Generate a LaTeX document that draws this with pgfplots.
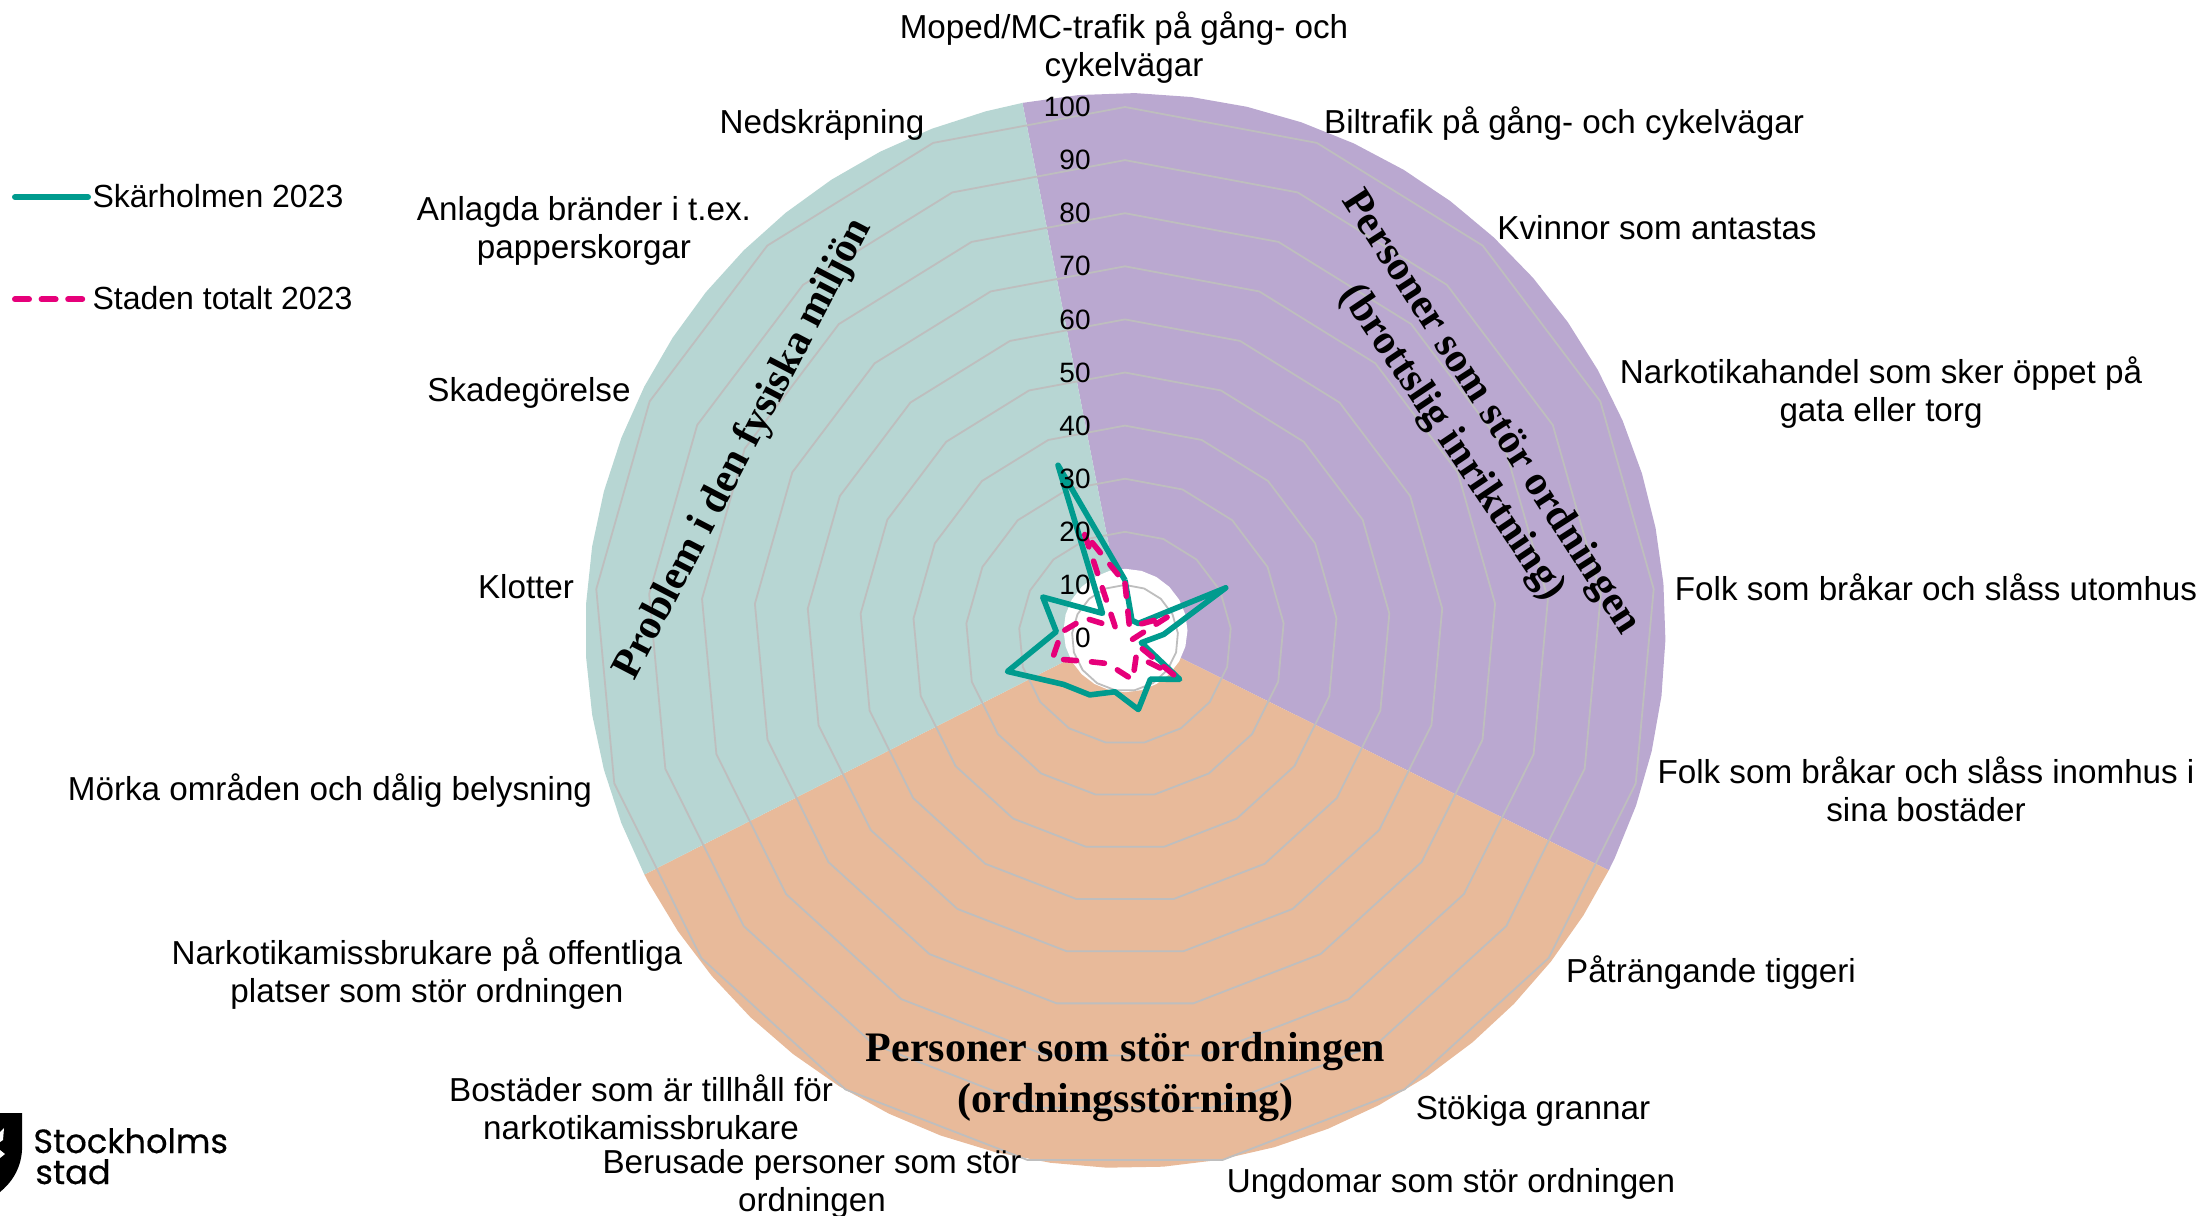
\documentclass[border=0pt]{standalone}
\usepackage{fontspec}
\setmainfont{Liberation Sans}
\newfontfamily\wordart{Liberation Serif}
\newfontfamily\logofont[FakeBold=0.4]{Poppins}
\usepackage{pgfplots}
\usepackage{pgfplotstable}
\pgfplotsset{compat=1.18}
\usepgfplotslibrary{polar}

\definecolor{purplebg}{RGB}{186,168,208}
\definecolor{greenbg}{RGB}{183,214,211}
\definecolor{orangebg}{RGB}{232,186,154}
\definecolor{ringgray}{RGB}{190,190,190}
\definecolor{tealline}{RGB}{0,155,142}
\definecolor{pinkline}{RGB}{230,0,122}

% angle = 90 - k*360/17, clockwise from the top
\pgfplotstableread{
angle teal pink
90 10.9 10.3
68.82 3.6 2.3
47.65 3.7 3.3
26.47 21.2 9.0
5.29 7.3 2.1
344.12 3.2 1.3
322.94 12.9 11.5
301.76 9.1 4.0
280.59 13.7 8.0
259.41 10.3 6.3
238.24 12.6 5.7
217.06 14.5 7.5
195.88 23.0 14.2
174.71 13.0 12.0
153.53 17.3 8.4
132.35 6.3 2.7
111.18 34.9 21.3
90 10.9 10.3
}\radardata

\begin{document}
\begin{tikzpicture}
\path[use as bounding box] (0pt,0pt) rectangle (1104pt,-608pt);

% doughnut behind the web, in pixels of radius
\begin{polaraxis}[
  at={(562.75pt,-315.25pt)}, anchor=center,
  scale only axis, width=540pt, height=537.5pt,
  hide axis, clip=false,
  ymin=0, ymax=540
]
\addplot [fill=purplebg, draw=none] coordinates {(0,0)(101,540)(95,540)(89,540)(83,540)(77,540)(71,540)(65,540)(59,540)(53,540)(47,540)(41,540)(35,540)(29,540)(23,540)(17,540)(11,540)(5,540)(-1,540)(-7,540)(-13,540)(-19,540)(-25,540)(-26.5,540)};
\addplot [fill=orangebg, draw=none] coordinates {(0,0)(-26.5,540)(-32,540)(-38,540)(-44,540)(-50,540)(-56,540)(-62,540)(-68,540)(-74,540)(-80,540)(-86,540)(-92,540)(-98,540)(-104,540)(-110,540)(-116,540)(-122,540)(-128,540)(-134,540)(-140,540)(-146,540)(-152,540)(-153,540)};
\addplot [fill=greenbg, draw=none] coordinates {(0,0)(207,540)(201,540)(195,540)(189,540)(183,540)(177,540)(171,540)(165,540)(159,540)(153,540)(147,540)(141,540)(135,540)(129,540)(123,540)(117,540)(111,540)(105,540)(101,540)};
\addplot [fill=white, draw=none] coordinates {(0,62)(15,62)(30,62)(45,62)(60,62)(75,62)(90,62)(105,62)(120,62)(135,62)(150,62)(165,62)(180,62)(195,62)(210,62)(225,62)(240,62)(255,62)(270,62)(285,62)(300,62)(315,62)(330,62)(345,62)};
\end{polaraxis}

% the web
\begin{polaraxis}[
  at={(562.5pt,-319pt)}, anchor=center,
  scale only axis, width=531pt, height=531pt,
  hide axis, clip=false,
  ymin=0, ymax=100
]
\pgfplotsinvokeforeach{10,20,...,100}{
  \addplot [ringgray, line width=0.9pt] table [x=angle, y expr=#1] {\radardata};
}
\addplot [tealline, line width=2.8pt, line join=round] table [x=angle, y=teal] {\radardata};
\addplot [pinkline, line width=2.8pt, line cap=round, line join=round, dash pattern=on 6.5pt off 7.5pt] table [x=angle, y=pink] {\radardata};

\pgfplotsinvokeforeach{0,10,...,100}{
  \node [anchor=east, font=\fontsize{14}{16}\selectfont, xshift=-17pt, inner sep=0pt] at (axis cs:90,#1) {#1};
}
\end{polaraxis}

% legend on its own empty axis, the polar one shifts the keys
\begin{axis}[
  at={(0pt,-80pt)}, anchor=north west,
  scale only axis, width=200pt, height=100pt,
  hide axis, xmin=0, xmax=1, ymin=0, ymax=1,
  legend cell align=left,
  legend image code/.code={\draw[#1] (0,0) -- (36.5pt,0);},
  legend style={draw=none, fill=none, font=\fontsize{16}{19}\selectfont,
    at={(0,1)}, anchor=north west, inner sep=0pt, outer sep=0pt, xshift=6pt, yshift=-10pt,
    row sep=34pt, nodes={inner xsep=0.8pt}, /tikz/every even column/.append style={column sep=0pt}}
]
\addlegendimage{tealline, line width=3pt, line cap=round}
\addlegendentry{Skärholmen 2023}
\addlegendimage{pinkline, line width=3pt, line cap=round, dash pattern=on 7pt off 6.3pt}
\addlegendentry{Staden totalt 2023}
\end{axis}

\begin{scope}[x=0.5pt,y=-0.5pt]
% spoke labels
\begin{scope}[every node/.style={align=center, inner sep=0pt, font=\fontsize{16.6}{19}\selectfont}]
\node at (1124,48) {Moped/MC-trafik på gång- och\\cykelvägar};
\node at (1564,124) {Biltrafik på gång- och cykelvägar};
\node at (1657,228) {Kvinnor som antastas};
\node at (1881,393) {Narkotikahandel som sker öppet på\\gata eller torg};
\node at (1936,587) {Folk som bråkar och slåss utomhus};
\node at (1926,789) {Folk som bråkar och slåss inomhus i\\sina bostäder};
\node at (1711,973) {Påträngande tiggeri};
\node at (1533,1111) {Stökiga grannar};
\node at (1451,1184) {Ungdomar som stör ordningen};
\node at (812,1184) {Berusade personer som stör\\ordningen};
\node at (641,1107) {Bostäder som är tillhåll för\\narkotikamissbrukare};
\node at (427,974) {Narkotikamissbrukare på offentliga\\platser som stör ordningen};
\node at (330,791) {Mörka områden och dålig belysning};
\node at (526,587) {Klotter};
\node at (529,393) {Skadegörelse};
\node at (584,231) {Anlagda bränder i t.ex.\\papperskorgar};
\node at (822,125) {Nedskräpning};
\end{scope}

% group titles
\begin{scope}[every node/.style={inner sep=0pt, font=\fontsize{21}{24}\bfseries\wordart\selectfont}]
\node at (1125.5,1052) {Personer som stör ordningen};
\node at (1125.5,1103) {(ordningsstörning)};
\node [rotate=-57.2] at (1490,413) {Personer som stör ordningen};
\node [rotate=-56] at (1452,443) {(brottslig inriktning)};
\node [rotate=62.5] at (744,449) {Problem i den fysiska miljön};
\end{scope}

% logo
\fill (0,1113) -- (22,1113) -- (22,1150) .. controls (21,1170) and (10,1184) .. (0,1192) -- cycle;
\fill [white] (0,1132) -- (4,1128) -- (3,1140) -- (0,1142) -- cycle;
\fill [white] (0,1150) -- (5,1154) -- (0,1158) -- cycle;
\node [anchor=base west, inner sep=0pt, font=\fontsize{16.8}{19}\logofont\selectfont] at (33,1153) {Stockholms};
\node [anchor=base west, inner sep=0pt, font=\fontsize{16.8}{19}\logofont\selectfont] at (35,1184) {stad};
\end{scope}
\end{tikzpicture}
\end{document}
